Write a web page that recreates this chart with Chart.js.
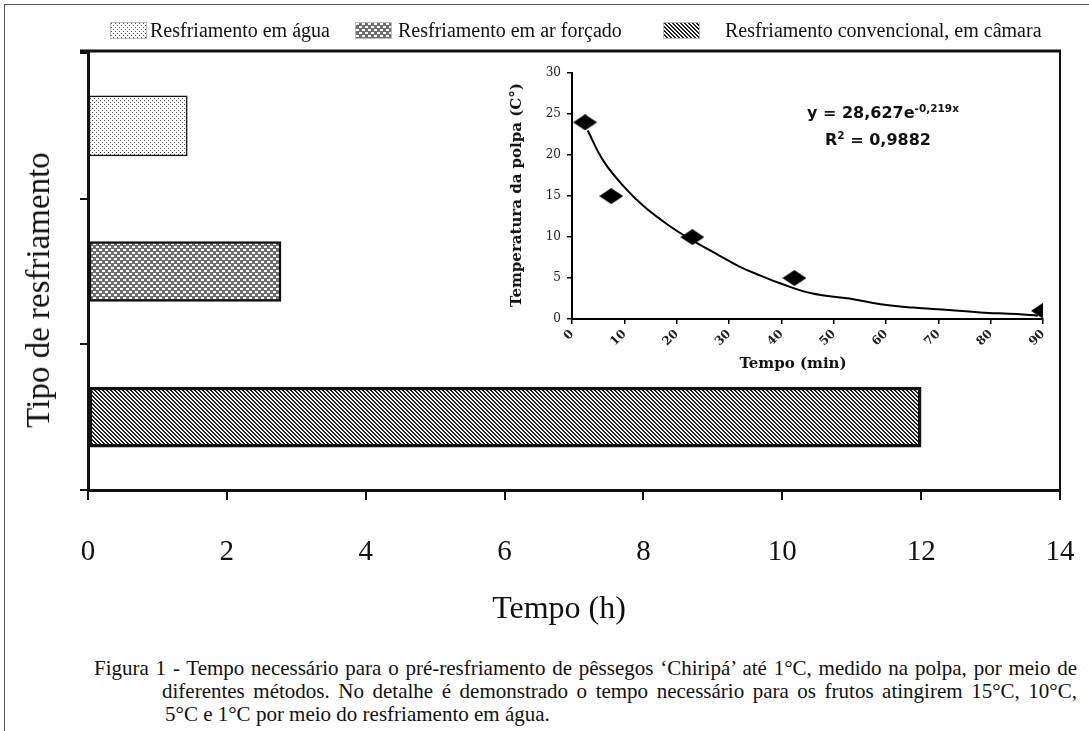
<!DOCTYPE html>
<html>
<head>
<meta charset="utf-8">
<script src="https://cdn.jsdelivr.net/npm/chart.js@4.4.0/dist/chart.umd.min.js"></script>
<style>
  body { margin: 0; background: #fff; width: 1089px; height: 731px; position: relative; overflow: hidden;
         font-family: "Liberation Serif", "Times New Roman", serif; color: #111; }
  .abs { position: absolute; white-space: nowrap; }
  #frame { left: 4px; top: 4px; width: 1100px; height: 740px; border-left: 1.5px solid #555; border-top: 1.5px solid #555; }
  #main { left: 0; top: 0; }
  #inset { left: 490px; top: 60px; }
  .leg { font-size: 20px; line-height: 20px; top: 20px; }
  .sw { top: 22px; border: 1px solid #bbb; }
  #xtitle { left: 559px; top: 589px; font-size: 32px; line-height: 36px; transform: translateX(-50%); }
  #ytitle { left: 38px; top: 290px; font-size: 33px; line-height: 36px; transform: translate(-50%, -50%) rotate(-90deg); }
  .cap { font-size: 21px; line-height: 23px; white-space: nowrap; text-align: justify; text-align-last: justify; }
  .eq { font-family: "DejaVu Sans", sans-serif; font-weight: bold; font-size: 16px; line-height: 18px; }
  .eq sup { font-size: 10.5px; vertical-align: 6px; line-height: 0; }
  .itl { font-family: "DejaVu Serif", serif; font-weight: bold; font-size: 15px; line-height: 16px; }
</style>
</head>
<body>
<div id="frame" class="abs"></div>
<canvas id="main" class="abs" width="1089" height="640"></canvas>
<canvas id="inset" class="abs" width="570" height="320"></canvas>

<canvas id="sw0" class="abs sw" width="35" height="15" style="left:110px"></canvas>
<div class="abs leg" style="left:150px">Resfriamento em água</div>
<canvas id="sw1" class="abs sw" width="35" height="15" style="left:355px"></canvas>
<div class="abs leg" style="left:398px">Resfriamento em ar forçado</div>
<canvas id="sw2" class="abs sw" width="35" height="15" style="left:663px"></canvas>
<div class="abs leg" style="left:725px">Resfriamento convencional, em câmara</div>

<div id="xtitle" class="abs">Tempo (h)</div>
<div id="ytitle" class="abs">Tipo de resfriamento</div>

<div class="abs eq" style="left:807px; top:104px">y = 28,627e<sup>-0,219x</sup></div>
<div class="abs eq" style="left:825px; top:131px">R<sup>2</sup> = 0,9882</div>
<div class="abs itl" style="left:516px; top:195px; transform: translate(-50%, -50%) rotate(-90deg)">Temperatura da polpa (C°)</div>
<div class="abs itl" style="left:793px; top:363px; transform: translate(-50%, -50%)">Tempo (min)</div>

<div class="abs cap" style="left:94px; top:657px; width:983px">Figura 1 - Tempo necessário para o pré-resfriamento de pêssegos ‘Chiripá’ até 1°C, medido na polpa, por meio de</div>
<div class="abs cap" style="left:162px; top:680px; width:915px">diferentes métodos. No detalhe é demonstrado o tempo necessário para os frutos atingirem 15°C, 10°C,</div>
<div class="abs cap" style="left:165px; top:703px; text-align:left; text-align-last:left">5°C e 1°C por meio do resfriamento em água.</div>

<script>
// --- dados: gráfico principal ---
const metodos = ['Resfriamento em água', 'Resfriamento em ar forçado', 'Resfriamento convencional, em câmara'];
const tempoHoras = [1.43, 2.78, 12.0];
const xMaxHoras = 14;
const xPassoHoras = 2;

// --- dados: detalhe (resfriamento em água) ---
const tempoMin = [2.5, 7.5, 23, 42.5, 90];
const tempPolpa = [24, 15, 10, 5, 1];
const curvaMin = [3, 6, 10, 14, 19, 23, 28, 32, 36, 40, 46, 53, 59, 65, 72, 78, 85, 89];
const curvaTemp = [23, 19.3, 16.1, 13.6, 11.2, 9.6, 7.8, 6.4, 5.3, 4.3, 3.1, 2.5, 1.8, 1.4, 1.1, 0.8, 0.6, 0.4];

// --- padrões de preenchimento ---
function tile(kind) {
  const c = document.createElement('canvas');
  const g = c.getContext('2d');
  if (kind === 'dots') {
    c.width = 4; c.height = 4;
    g.fillStyle = '#fff'; g.fillRect(0, 0, 4, 4);
    g.fillStyle = '#555'; g.fillRect(0, 0, 1, 1); g.fillRect(2, 2, 1, 1);
  } else if (kind === 'mesh') {
    c.width = 6; c.height = 6;
    g.fillStyle = '#6e6e6e'; g.fillRect(0, 0, 6, 6);
    g.fillStyle = '#fff'; g.fillRect(0, 0, 3, 2); g.fillRect(3, 3, 3, 2);
  } else {
    c.width = 4; c.height = 4;
    g.fillStyle = '#fff'; g.fillRect(0, 0, 4, 4);
    g.fillStyle = '#222';
    for (let i = 0; i < 4; i++) { g.fillRect(i, i, 1, 1); g.fillRect((i + 1) % 4, i, 1, 1); }
  }
  return c;
}
const mainCtx = document.getElementById('main').getContext('2d');
const patterns = ['dots', 'mesh', 'stripes'].map(k => mainCtx.createPattern(tile(k), 'repeat'));

patterns.forEach((p, i) => {
  const g = document.getElementById('sw' + i).getContext('2d');
  g.fillStyle = p; g.fillRect(0, 0, 35, 15);
});

// moldura do gráfico (linha superior e direita)
const moldura = {
  id: 'moldura',
  afterDraw(chart) {
    const { ctx, chartArea: a } = chart;
    ctx.save();
    ctx.strokeStyle = '#111';
    ctx.lineWidth = 3;
    ctx.beginPath(); ctx.moveTo(a.left - 8, a.top - 2); ctx.lineTo(a.right + 1, a.top - 2); ctx.stroke();
    ctx.lineWidth = 2;
    ctx.beginPath(); ctx.moveTo(a.right, a.top - 2); ctx.lineTo(a.right, a.bottom); ctx.stroke();
    ctx.restore();
  }
};

new Chart(mainCtx, {
  type: 'bar',
  data: {
    labels: metodos,
    datasets: [{
      data: tempoHoras,
      backgroundColor: patterns,
      borderColor: '#111',
      borderWidth: [1.5, 2.5, 3.5],
      borderSkipped: false,
      barThickness: 60
    }]
  },
  options: {
    responsive: false,
    animation: false,
    indexAxis: 'y',
    layout: { padding: { left: 80, top: 53, right: 29, bottom: 0 } },
    plugins: { legend: { display: false }, tooltip: { enabled: false } },
    scales: {
      x: {
        type: 'linear', min: 0, max: xMaxHoras,
        ticks: { stepSize: xPassoHoras, color: '#111', padding: 35, font: { family: 'Liberation Serif', size: 29 } },
        grid: { drawOnChartArea: false, tickLength: 10, color: '#111', lineWidth: 2 },
        border: { color: '#111', width: 3 },
        afterFit(s) { s.height = 150; s.paddingLeft = 0; s.paddingRight = 0; }
      },
      y: {
        ticks: { display: false },
        grid: { drawOnChartArea: false, tickLength: 8, color: '#111', lineWidth: 2, offset: true },
        border: { color: '#111', width: 3 },
        afterFit(s) { s.width = 8; s.paddingTop = 0; s.paddingBottom = 0; }
      }
    }
  },
  plugins: [moldura]
});

// --- detalhe ---
const losango = document.createElement('canvas');
losango.width = 24; losango.height = 16;
{
  const g = losango.getContext('2d');
  g.fillStyle = '#000';
  g.beginPath(); g.moveTo(12, 0); g.lineTo(24, 8); g.lineTo(12, 16); g.lineTo(0, 8); g.closePath(); g.fill();
}

new Chart(document.getElementById('inset'), {
  type: 'scatter',
  data: {
    datasets: [
      {
        data: curvaMin.map((x, i) => ({ x, y: curvaTemp[i] })),
        showLine: true, borderColor: '#000', borderWidth: 2, tension: 0.4, pointRadius: 0
      },
      {
        data: tempoMin.map((x, i) => ({ x, y: tempPolpa[i] })),
        pointStyle: losango, pointRadius: 10
      }
    ]
  },
  options: {
    responsive: false,
    animation: false,
    layout: { padding: { left: 52, top: 12, right: 17, bottom: 0 } },
    plugins: { legend: { display: false }, tooltip: { enabled: false } },
    scales: {
      x: {
        type: 'linear', min: 0, max: 90,
        ticks: { stepSize: 10, autoSkip: false, minRotation: 45, maxRotation: 45, padding: 3, color: '#222',
                 font: { family: 'DejaVu Serif', size: 12, weight: 'bold' } },
        grid: { drawOnChartArea: false, tickLength: 5, color: '#000', lineWidth: 1.5 },
        border: { color: '#000', width: 2 },
        afterFit(s) { s.height = 61; }
      },
      y: {
        min: 0, max: 30,
        ticks: { stepSize: 5, padding: 6, color: '#222', font: { family: 'DejaVu Serif', size: 12 } },
        grid: { drawOnChartArea: false, tickLength: 5, color: '#000', lineWidth: 1.5 },
        border: { color: '#000', width: 2 },
        afterFit(s) { s.width = 30; }
      }
    }
  }
});
</script>
</body>
</html>
